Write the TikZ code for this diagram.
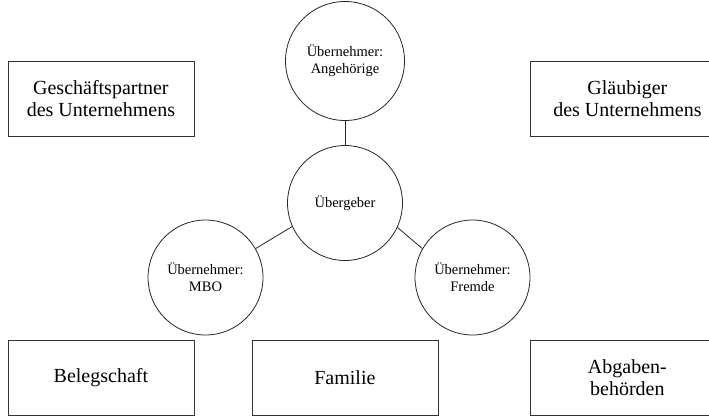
\documentclass[tikz,border=0pt]{standalone}
\usepackage{fontspec}
\setmainfont{Liberation Serif}
\begin{document}
\begin{tikzpicture}[x=1pt,y=-1pt,
  box/.style={draw=black!80, line width=0.8pt, minimum height=75pt, inner sep=0pt, align=center, font=\fontsize{20}{22}\selectfont, anchor=north west},
  circ/.style={draw=black!85, line width=0.8pt, circle, minimum size=115pt, inner sep=0pt, align=center, font=\fontsize{14.5}{17}\selectfont},
  conn/.style={draw=black!85, line width=0.8pt}]
\useasboundingbox (0,0) rectangle (709,415);
\clip (0,0) rectangle (709,415);
\node[box, minimum width=186pt] (gp) at (7.5,61) {Geschäftspartner\\des Unternehmens};
\node[box, minimum width=194pt] (gl) at (530,61) {Gläubiger\\des Unternehmens};
\node[box, minimum width=186pt] (bel) at (7.5,340) {Belegschaft};
\node[box, minimum width=186pt] (fam) at (251.5,340) {Familie};
\node[box, minimum width=194pt] (abg) at (530,340) {Abgaben-\\behörden};
\node[circ, minimum size=119pt] (ang) at (345,61) {Übernehmer:\\Angehörige};
\node[circ] (ueb) at (345,203) {Übergeber};
\node[circ] (mbo) at (205.5,277.5) {Übernehmer:\\MBO};
\node[circ] (fre) at (472.5,277.5) {Übernehmer:\\Fremde};
\draw[conn] (ang) -- (ueb);
\draw[conn] (ueb.204) -- (mbo.30);
\draw[conn] (ueb.-25) -- (fre.150);
\end{tikzpicture}
\end{document}
